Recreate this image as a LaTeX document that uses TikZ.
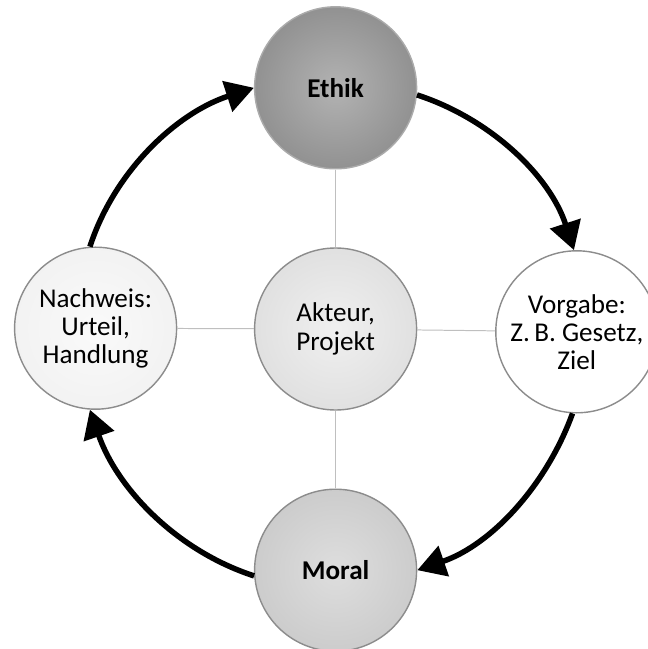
\documentclass[tikz,border=0pt]{standalone}
\usepackage{fontspec}
\setmainfont{Carlito}
\usetikzlibrary{arrows.meta}

\begin{document}
\begin{tikzpicture}[
    circ/.style={circle, draw=black!45, line width=1pt, minimum size=4.05cm, inner sep=0pt, align=center, font=\fontsize{19.3}{20}\selectfont},
    spoke/.style={black!25, line width=0.7pt},
    cyc/.style={line width=3.9pt, looseness=0.9, -{Triangle[length=0.7cm, width=0.78cm]}}
]
    % Frame: 1 px of the reference = 0.025 cm, origin in the middle circle
    \useasboundingbox (-8.39, -8.0) rectangle (7.81, 8.225);

    % Circles
    \node[circ, shading=radial, inner color=black!30, outer color=black!43, draw=black!33] (ethik) at (0, 6.03) {\textbf{Ethik}};
    \node[circ, shading=radial, inner color=black!6, outer color=black!12, font=\fontsize{19.3}{21}\selectfont] (akteur) at (0, 0) {Akteur,\\Projekt};
    \node[circ, shading=radial, inner color=black!2, outer color=black!5] (nachweis) at (-6.0, 0.02) {Nachweis:\\Urteil,\\Handlung};
    \node[circ, fill=white] (vorgabe) at (6.03, -0.07) {Vorgabe:\\Z.\,B. Gesetz,\\Ziel};
    \node[circ, shading=radial, inner color=black!13, outer color=black!20] (moral) at (0, -6.03) {\textbf{Moral}};

    % Spokes
    \foreach \n in {ethik, nachweis, vorgabe, moral} {
        \draw[spoke] (akteur) -- (\n);
    }

    % Cycle arrows
    \draw[cyc] (ethik.-5) to[out=-18, in=108] (vorgabe.92);
    \draw[cyc] (vorgabe.-93) to[out=-110, in=19] (moral.east);
    \draw[cyc] (moral.184) to[out=162, in=-71] (nachweis.-94);
    \draw[cyc] (nachweis.94) to[out=72, in=-162] (ethik.180);
\end{tikzpicture}
\end{document}
